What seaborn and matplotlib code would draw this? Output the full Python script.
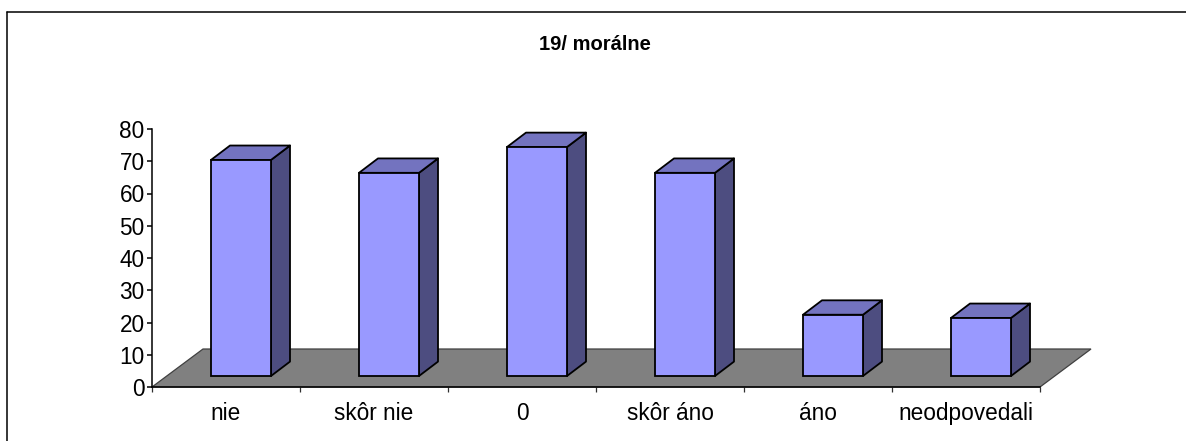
import numpy as np
import pandas as pd
import matplotlib
matplotlib.use("Agg")
import matplotlib.pyplot as plt
from matplotlib.lines import Line2D
from matplotlib.patches import Polygon
import seaborn as sns

# Data
categories = ["nie", "skôr nie", "0", "skôr áno", "áno", "neodpovedali"]
values = [67, 63, 71, 63, 19, 18]
y_ticks = [0, 10, 20, 30, 40, 50, 60, 70, 80]
title = "19/ morálne"

# Sizes in pixels
W, H = 1186, 441
AX_L, AX_R, AX_T, AX_B = 152, 1040, 129, 387
FRONT, SIDE, TOP = "#9999FF", "#4D4D80", "#7373BF"
EDGE_LW = 1.3

sns.set_theme(style="ticks")
plt.rcParams["font.family"] = ["Liberation Sans", "DejaVu Sans"]

fig = plt.figure(figsize=(W / 100, H / 100), dpi=100, facecolor="white")
ax = fig.add_axes([AX_L / W, 1 - AX_B / H, (AX_R - AX_L) / W, (AX_B - AX_T) / H])

df = pd.DataFrame({"category": categories, "value": values})

px_x = 1 / 148                      # one pixel in category units
px_y = 80 / (AX_B - AX_T)           # one pixel in value units
base = 11 * px_y                    # front of the bars sits above the axis line
shift = 15 * px_x                   # bars sit right of the slot centre
depth_x, depth_y = 19 * px_x, 14.4 * px_y

sns.barplot(data=df, x="category", y="value", color=FRONT, saturation=1, width=60 / 148,
            bottom=base, edgecolor="black", linewidth=EDGE_LW, ax=ax, zorder=3)

ax.set_xlim(-0.5, 5.5)
ax.set_ylim(0, 80)

# Floor of the 3D box
floor = Polygon([(-0.5, 0), (5.5, 0), (5.5 + 51 * px_x, 38 * px_y), (-0.5 + 51 * px_x, 38 * px_y)],
                closed=True, facecolor="#808080", edgecolor="#404040", linewidth=0.9,
                clip_on=False, zorder=1)
ax.add_patch(floor)

# Side and top faces come from the seaborn bars
for bar in ax.patches[:]:
    if bar is floor:
        continue
    bar.set_x(bar.get_x() + shift)
    bar.set_clip_on(False)
    x0, x1 = bar.get_x(), bar.get_x() + bar.get_width()
    y0, y1 = bar.get_y(), bar.get_y() + bar.get_height()
    ax.add_patch(Polygon([(x1, y0), (x1 + depth_x, y0 + depth_y), (x1 + depth_x, y1 + depth_y), (x1, y1)],
                         closed=True, facecolor=SIDE, edgecolor="black", linewidth=EDGE_LW,
                         joinstyle="round", clip_on=False, zorder=2.5))
    ax.add_patch(Polygon([(x0, y1), (x1, y1), (x1 + depth_x, y1 + depth_y), (x0 + depth_x, y1 + depth_y)],
                         closed=True, facecolor=TOP, edgecolor="black", linewidth=EDGE_LW,
                         joinstyle="round", clip_on=False, zorder=2.5))

# Axes
sns.despine(ax=ax, top=True, right=True)
for s in ("left", "bottom"):
    ax.spines[s].set_color("black")
    ax.spines[s].set_linewidth(1.1)
    ax.spines[s].set_zorder(4)

ax.set_xticks(np.arange(-0.5, 6, 1), labels=[])
ax.set_xticks(range(len(categories)), labels=categories, minor=True)
ax.tick_params(axis="x", which="major", length=3.8, width=0.9, color="#303030")
ax.tick_params(axis="x", which="minor", length=0, labelsize=16.3, pad=10.5, labelcolor="black")
ax.set_yticks(y_ticks)
ax.tick_params(axis="y", length=3.8, width=1.1, color="black", labelsize=16.3, pad=1.5, labelcolor="black")
ax.set_xlabel("")
ax.set_ylabel("")

fig.text(595 / W, 1 - 44 / H, title, ha="center", va="center", fontsize=14.5,
         fontweight="bold", color="black")

# Chart frame: only top and left are visible in the crop
fig.add_artist(Line2D([6.5 / W, 6.5 / W], [0, 1 - 11.5 / H], color="black", lw=1.1))
fig.add_artist(Line2D([6.5 / W, 1], [1 - 11.5 / H, 1 - 11.5 / H], color="black", lw=1.1))

fig.savefig("out.png", dpi=100)
